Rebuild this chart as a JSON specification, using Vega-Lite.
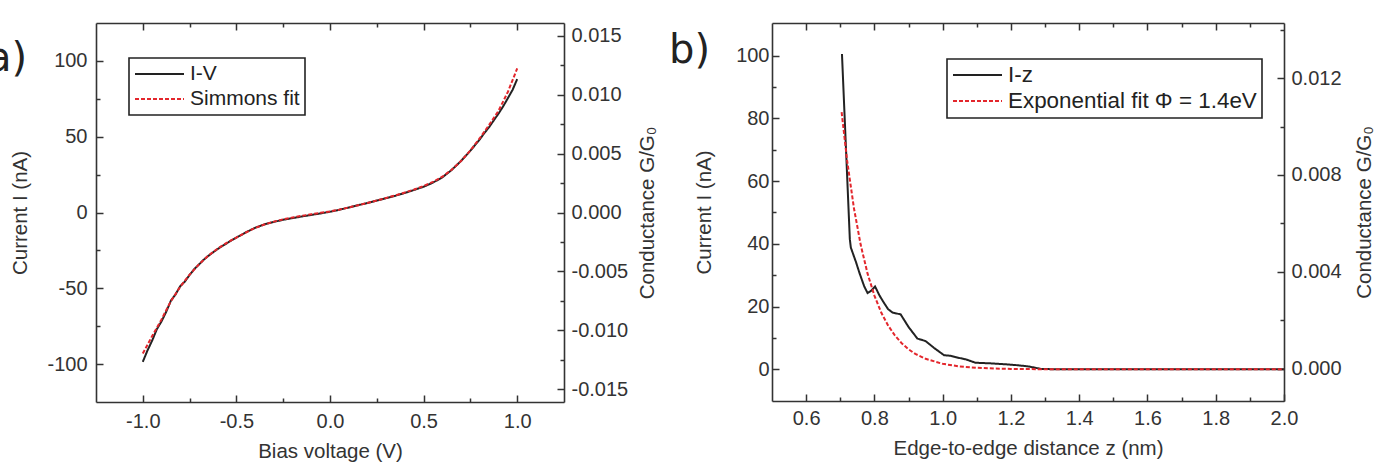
{
  "$schema": "https://vega.github.io/schema/vega-lite/v6.json",
  "padding": {"left": -13, "top": 19, "right": 5, "bottom": 5},
  "background": "white",
  "bounds": "flush",
  "spacing": 208,
  "config": {
    "font": "Liberation Sans",
    "view": {"stroke": null},
    "axis": {
      "domainColor": "#333", "domainWidth": 1.6,
      "tickColor": "#333", "tickWidth": 1.5,
      "labelFont": "Liberation Sans", "labelFontSize": 20, "labelColor": "#333",
      "titleFont": "Liberation Sans", "titleFontSize": 20.5, "titleFontWeight": "normal", "titleColor": "#333",
      "grid": false, "labelFlush": false, "labelOverlap": false, "labelPadding": 14
    },
    "legend": {
      "orient": "none", "title": null, "strokeColor": "#222", "strokeWidth": 1.6,
      "padding": 5, "symbolType": "stroke", "symbolSize": 2400, "symbolStrokeWidth": 2,
      "clipHeight": 22, "labelLimit": 400,
      "labelFont": "Liberation Sans", "labelFontSize": 22, "labelColor": "#222", "labelOffset": 5,
      "rowPadding": 3, "fillColor": "white"
    },
    "title": {"font": "DejaVu Sans", "fontSize": 40, "fontWeight": "normal", "color": "#222", "anchor": "start", "frame": "group", "baseline": "alphabetic", "offset": 0}
  },
  "resolve": {"scale": {"color": "independent", "strokeDash": "independent"}},
  "hconcat": [
    {
      "width": 468, "height": 379,
      "title": {"text": "a)", "dx": -109, "dy": 61},
      "layer": [
        {
          "data": {"values": [
            {"V": -1.0, "I": -98.5, "s": "I-V"}, {"V": -0.975, "I": -91.0, "s": "I-V"}, {"V": -0.95, "I": -84.5, "s": "I-V"},
            {"V": -0.925, "I": -77.0, "s": "I-V"}, {"V": -0.9, "I": -71.8, "s": "I-V"}, {"V": -0.875, "I": -65.5, "s": "I-V"},
            {"V": -0.85, "I": -58.2, "s": "I-V"}, {"V": -0.825, "I": -54.0, "s": "I-V"}, {"V": -0.8, "I": -48.6, "s": "I-V"},
            {"V": -0.775, "I": -45.5, "s": "I-V"}, {"V": -0.75, "I": -41.2, "s": "I-V"}, {"V": -0.725, "I": -37.3, "s": "I-V"},
            {"V": -0.7, "I": -34.3, "s": "I-V"}, {"V": -0.675, "I": -31.2, "s": "I-V"}, {"V": -0.65, "I": -28.6, "s": "I-V"},
            {"V": -0.625, "I": -26.3, "s": "I-V"}, {"V": -0.6, "I": -24.1, "s": "I-V"}, {"V": -0.575, "I": -22.0, "s": "I-V"},
            {"V": -0.55, "I": -20.2, "s": "I-V"}, {"V": -0.525, "I": -18.3, "s": "I-V"}, {"V": -0.5, "I": -16.6, "s": "I-V"},
            {"V": -0.45, "I": -13.1, "s": "I-V"}, {"V": -0.4, "I": -10.1, "s": "I-V"}, {"V": -0.35, "I": -7.8, "s": "I-V"},
            {"V": -0.3, "I": -6.2, "s": "I-V"}, {"V": -0.25, "I": -4.8, "s": "I-V"}, {"V": -0.2, "I": -3.7, "s": "I-V"},
            {"V": -0.15, "I": -2.6, "s": "I-V"}, {"V": -0.1, "I": -1.6, "s": "I-V"}, {"V": -0.05, "I": -0.6, "s": "I-V"},
            {"V": 0.0, "I": 0.5, "s": "I-V"}, {"V": 0.05, "I": 1.8, "s": "I-V"}, {"V": 0.1, "I": 3.3, "s": "I-V"},
            {"V": 0.15, "I": 4.8, "s": "I-V"}, {"V": 0.2, "I": 6.3, "s": "I-V"}, {"V": 0.25, "I": 7.9, "s": "I-V"},
            {"V": 0.3, "I": 9.5, "s": "I-V"}, {"V": 0.35, "I": 11.1, "s": "I-V"}, {"V": 0.4, "I": 12.9, "s": "I-V"},
            {"V": 0.45, "I": 14.9, "s": "I-V"}, {"V": 0.5, "I": 17.0, "s": "I-V"}, {"V": 0.55, "I": 19.7, "s": "I-V"},
            {"V": 0.6, "I": 23.2, "s": "I-V"}, {"V": 0.625, "I": 25.6, "s": "I-V"}, {"V": 0.65, "I": 28.1, "s": "I-V"},
            {"V": 0.675, "I": 31.0, "s": "I-V"}, {"V": 0.7, "I": 34.0, "s": "I-V"}, {"V": 0.725, "I": 37.4, "s": "I-V"},
            {"V": 0.75, "I": 40.8, "s": "I-V"}, {"V": 0.775, "I": 44.5, "s": "I-V"}, {"V": 0.8, "I": 48.2, "s": "I-V"},
            {"V": 0.825, "I": 52.5, "s": "I-V"}, {"V": 0.85, "I": 56.3, "s": "I-V"}, {"V": 0.875, "I": 60.8, "s": "I-V"},
            {"V": 0.9, "I": 65.2, "s": "I-V"}, {"V": 0.925, "I": 70.0, "s": "I-V"}, {"V": 0.95, "I": 75.4, "s": "I-V"},
            {"V": 0.975, "I": 80.8, "s": "I-V"}, {"V": 1.0, "I": 88.0, "s": "I-V"},
            {"V": -1.0, "I": -93.0, "s": "Simmons fit"}, {"V": -0.95, "I": -81.5, "s": "Simmons fit"}, {"V": -0.9, "I": -70.5, "s": "Simmons fit"},
            {"V": -0.85, "I": -58.5, "s": "Simmons fit"}, {"V": -0.8, "I": -49.0, "s": "Simmons fit"}, {"V": -0.75, "I": -41.0, "s": "Simmons fit"},
            {"V": -0.7, "I": -34.2, "s": "Simmons fit"}, {"V": -0.65, "I": -28.5, "s": "Simmons fit"}, {"V": -0.6, "I": -23.8, "s": "Simmons fit"},
            {"V": -0.55, "I": -19.9, "s": "Simmons fit"}, {"V": -0.5, "I": -16.5, "s": "Simmons fit"}, {"V": -0.45, "I": -13.2, "s": "Simmons fit"},
            {"V": -0.4, "I": -10.2, "s": "Simmons fit"}, {"V": -0.35, "I": -7.9, "s": "Simmons fit"}, {"V": -0.3, "I": -6.0, "s": "Simmons fit"},
            {"V": -0.25, "I": -4.5, "s": "Simmons fit"}, {"V": -0.2, "I": -3.3, "s": "Simmons fit"}, {"V": -0.15, "I": -2.2, "s": "Simmons fit"},
            {"V": -0.1, "I": -1.2, "s": "Simmons fit"}, {"V": -0.05, "I": -0.2, "s": "Simmons fit"}, {"V": 0.0, "I": 0.7, "s": "Simmons fit"},
            {"V": 0.05, "I": 1.9, "s": "Simmons fit"}, {"V": 0.1, "I": 3.3, "s": "Simmons fit"}, {"V": 0.15, "I": 4.8, "s": "Simmons fit"},
            {"V": 0.2, "I": 6.3, "s": "Simmons fit"}, {"V": 0.25, "I": 7.9, "s": "Simmons fit"}, {"V": 0.3, "I": 9.6, "s": "Simmons fit"},
            {"V": 0.35, "I": 11.3, "s": "Simmons fit"}, {"V": 0.4, "I": 13.2, "s": "Simmons fit"}, {"V": 0.45, "I": 15.2, "s": "Simmons fit"},
            {"V": 0.5, "I": 17.5, "s": "Simmons fit"}, {"V": 0.55, "I": 20.2, "s": "Simmons fit"}, {"V": 0.6, "I": 23.6, "s": "Simmons fit"},
            {"V": 0.65, "I": 28.2, "s": "Simmons fit"}, {"V": 0.7, "I": 34.0, "s": "Simmons fit"}, {"V": 0.75, "I": 41.0, "s": "Simmons fit"},
            {"V": 0.8, "I": 49.0, "s": "Simmons fit"}, {"V": 0.85, "I": 57.8, "s": "Simmons fit"}, {"V": 0.9, "I": 67.0, "s": "Simmons fit"},
            {"V": 0.95, "I": 79.5, "s": "Simmons fit"}, {"V": 1.0, "I": 95.0, "s": "Simmons fit"}
          ]},
          "mark": {"type": "line", "strokeWidth": 2, "clip": true},
          "encoding": {
            "x": {"field": "V", "type": "quantitative", "scale": {"domain": [-1.25, 1.25], "nice": false, "zero": false},
              "axis": {"orient": "bottom", "title": "Bias voltage (V)", "titlePadding": 7, "labelPadding": 16,
                "values": [-1, -0.75, -0.5, -0.25, 0, 0.25, 0.5, 0.75, 1],
                "labelExpr": "abs(datum.value*2 - round(datum.value*2)) < 1e-6 ? (datum.value < 0 ? '-' : '') + format(abs(datum.value), '.1f') : ''",
                "tickSize": {"condition": {"test": "abs(datum.value*2 - round(datum.value*2)) < 1e-6", "value": -7}, "value": -4}}},
            "y": {"field": "I", "type": "quantitative", "scale": {"domain": [-125, 125], "nice": false, "zero": false},
              "axis": {"orient": "left", "title": "Current I (nA)", "titlePadding": 16, "labelPadding": 16,
                "values": [-100, -75, -50, -25, 0, 25, 50, 75, 100],
                "labelExpr": "datum.value % 50 === 0 ? (datum.value < 0 ? '-' : '') + format(abs(datum.value), 'd') : ''",
                "tickSize": {"condition": {"test": "datum.value % 50 === 0", "value": -7}, "value": -4}}},
            "color": {"field": "s", "type": "nominal", "scale": {"domain": ["I-V", "Simmons fit"], "range": ["#222222", "#e3262c"]},
              "legend": {"legendX": 33, "legendY": 35, "labelFontSize": 21}},
            "strokeDash": {"field": "s", "type": "nominal", "scale": {"domain": ["I-V", "Simmons fit"], "range": [[1, 0], [4, 2]]},
              "legend": {"legendX": 33, "legendY": 35, "labelFontSize": 21}}
          }
        },
        {
          "data": {"values": [{"xd": 0, "gd": 0}]},
          "mark": {"type": "point", "opacity": 0},
          "encoding": {
            "x": {"field": "xd", "type": "quantitative", "scale": {"domain": [-1.25, 1.25], "nice": false, "zero": false},
              "axis": {"orient": "top", "title": null, "labels": false,
                "values": [-1, -0.75, -0.5, -0.25, 0, 0.25, 0.5, 0.75, 1],
                "tickSize": {"condition": {"test": "abs(datum.value*2 - round(datum.value*2)) < 1e-6", "value": -7}, "value": -4}}},
            "y": {"field": "gd", "type": "quantitative", "scale": {"domain": [-0.0161, 0.0161], "nice": false, "zero": false},
              "axis": {"orient": "right", "title": "Conductance G/G₀", "titleAngle": 270, "titleBaseline": "top", "titlePadding": 10,
                "values": [-0.015, -0.0125, -0.01, -0.0075, -0.005, -0.0025, 0, 0.0025, 0.005, 0.0075, 0.01, 0.0125, 0.015],
                "labelExpr": "abs(datum.value*200 - round(datum.value*200)) < 1e-6 ? (datum.value < -1e-9 ? '-' : '') + format(abs(datum.value), '.3f') : ''",
                "tickSize": {"condition": {"test": "abs(datum.value*200 - round(datum.value*200)) < 1e-6", "value": -7}, "value": -4}}}
          }
        }
      ],
      "resolve": {"scale": {"x": "independent", "y": "independent"}}
    },
    {
      "width": 512, "height": 378,
      "title": {"text": "b)", "dx": -103, "dy": 55},
      "layer": [
        {
          "data": {"values": [
            {"z": 0.705, "I": 100.5, "s": "I-z"}, {"z": 0.728, "I": 41.5, "s": "I-z"}, {"z": 0.731, "I": 38.8, "s": "I-z"},
            {"z": 0.746, "I": 34.2, "s": "I-z"}, {"z": 0.756, "I": 30.8, "s": "I-z"}, {"z": 0.77, "I": 26.5, "s": "I-z"},
            {"z": 0.78, "I": 24.3, "s": "I-z"}, {"z": 0.79, "I": 25.0, "s": "I-z"}, {"z": 0.802, "I": 26.4, "s": "I-z"},
            {"z": 0.815, "I": 23.5, "s": "I-z"}, {"z": 0.828, "I": 21.2, "s": "I-z"}, {"z": 0.84, "I": 19.2, "s": "I-z"},
            {"z": 0.853, "I": 18.1, "s": "I-z"}, {"z": 0.877, "I": 17.5, "s": "I-z"}, {"z": 0.9, "I": 13.5, "s": "I-z"},
            {"z": 0.926, "I": 9.8, "s": "I-z"}, {"z": 0.95, "I": 9.0, "s": "I-z"}, {"z": 0.975, "I": 6.8, "s": "I-z"},
            {"z": 1.004, "I": 4.5, "s": "I-z"}, {"z": 1.023, "I": 4.3, "s": "I-z"}, {"z": 1.045, "I": 3.7, "s": "I-z"},
            {"z": 1.067, "I": 3.2, "s": "I-z"}, {"z": 1.096, "I": 2.1, "s": "I-z"}, {"z": 1.14, "I": 1.9, "s": "I-z"},
            {"z": 1.184, "I": 1.6, "s": "I-z"}, {"z": 1.22, "I": 1.3, "s": "I-z"}, {"z": 1.252, "I": 0.9, "s": "I-z"},
            {"z": 1.29, "I": 0.1, "s": "I-z"}, {"z": 1.35, "I": 0.0, "s": "I-z"}, {"z": 1.5, "I": 0.0, "s": "I-z"},
            {"z": 1.7, "I": 0.0, "s": "I-z"}, {"z": 2.0, "I": 0.0, "s": "I-z"},
            {"z": 0.704, "I": 82.0, "s": "Exponential fit Φ = 1.4eV"}, {"z": 0.72, "I": 66.6, "s": "Exponential fit Φ = 1.4eV"},
            {"z": 0.74, "I": 51.4, "s": "Exponential fit Φ = 1.4eV"}, {"z": 0.76, "I": 39.6, "s": "Exponential fit Φ = 1.4eV"},
            {"z": 0.78, "I": 30.5, "s": "Exponential fit Φ = 1.4eV"}, {"z": 0.8, "I": 23.5, "s": "Exponential fit Φ = 1.4eV"},
            {"z": 0.82, "I": 18.1, "s": "Exponential fit Φ = 1.4eV"}, {"z": 0.84, "I": 14.0, "s": "Exponential fit Φ = 1.4eV"},
            {"z": 0.86, "I": 10.8, "s": "Exponential fit Φ = 1.4eV"}, {"z": 0.88, "I": 8.3, "s": "Exponential fit Φ = 1.4eV"},
            {"z": 0.9, "I": 6.4, "s": "Exponential fit Φ = 1.4eV"}, {"z": 0.92, "I": 4.9, "s": "Exponential fit Φ = 1.4eV"},
            {"z": 0.95, "I": 3.35, "s": "Exponential fit Φ = 1.4eV"}, {"z": 1.0, "I": 1.75, "s": "Exponential fit Φ = 1.4eV"},
            {"z": 1.05, "I": 0.91, "s": "Exponential fit Φ = 1.4eV"}, {"z": 1.1, "I": 0.48, "s": "Exponential fit Φ = 1.4eV"},
            {"z": 1.15, "I": 0.25, "s": "Exponential fit Φ = 1.4eV"}, {"z": 1.2, "I": 0.13, "s": "Exponential fit Φ = 1.4eV"},
            {"z": 1.3, "I": 0.03, "s": "Exponential fit Φ = 1.4eV"}, {"z": 1.4, "I": 0.01, "s": "Exponential fit Φ = 1.4eV"},
            {"z": 1.6, "I": 0.0, "s": "Exponential fit Φ = 1.4eV"}, {"z": 1.8, "I": 0.0, "s": "Exponential fit Φ = 1.4eV"},
            {"z": 2.0, "I": 0.0, "s": "Exponential fit Φ = 1.4eV"}
          ]},
          "mark": {"type": "line", "strokeWidth": 2, "clip": true},
          "encoding": {
            "x": {"field": "z", "type": "quantitative", "scale": {"domain": [0.5, 2.0], "nice": false, "zero": false},
              "axis": {"orient": "bottom", "title": "Edge-to-edge distance z (nm)", "titlePadding": 7, "labelPadding": 14.5,
                "values": [0.6, 0.7, 0.8, 0.9, 1.0, 1.1, 1.2, 1.3, 1.4, 1.5, 1.6, 1.7, 1.8, 1.9, 2.0],
                "labelExpr": "abs(datum.value*5 - round(datum.value*5)) < 1e-6 ? format(datum.value, '.1f') : ''",
                "tickSize": {"condition": {"test": "abs(datum.value*5 - round(datum.value*5)) < 1e-6", "value": -7}, "value": -4}}},
            "y": {"field": "I", "type": "quantitative", "scale": {"domain": [-10.1, 110.4], "nice": false, "zero": false},
              "axis": {"orient": "left", "title": "Current I (nA)", "titlePadding": 21, "labelPadding": 10,
                "values": [0, 10, 20, 30, 40, 50, 60, 70, 80, 90, 100],
                "labelExpr": "datum.value % 20 === 0 ? format(datum.value, 'd') : ''",
                "tickSize": {"condition": {"test": "datum.value % 20 === 0", "value": -7}, "value": -4}}},
            "color": {"field": "s", "type": "nominal", "scale": {"domain": ["I-z", "Exponential fit Φ = 1.4eV"], "range": ["#222222", "#e3262c"]},
              "legend": {"legendX": 175, "legendY": 36, "labelFontSize": 22.4}},
            "strokeDash": {"field": "s", "type": "nominal", "scale": {"domain": ["I-z", "Exponential fit Φ = 1.4eV"], "range": [[1, 0], [4, 2]]},
              "legend": {"legendX": 175, "legendY": 36, "labelFontSize": 22.4}}
          }
        },
        {
          "data": {"values": [{"xd": 1, "gd": 0}]},
          "mark": {"type": "point", "opacity": 0},
          "encoding": {
            "x": {"field": "xd", "type": "quantitative", "scale": {"domain": [0.5, 2.0], "nice": false, "zero": false},
              "axis": {"orient": "top", "title": null, "labels": false,
                "values": [0.6, 0.7, 0.8, 0.9, 1.0, 1.1, 1.2, 1.3, 1.4, 1.5, 1.6, 1.7, 1.8, 1.9],
                "tickSize": {"condition": {"test": "abs(datum.value*5 - round(datum.value*5)) < 1e-6", "value": -7}, "value": -4}}},
            "y": {"field": "gd", "type": "quantitative", "scale": {"domain": [-0.00134, 0.01428], "nice": false, "zero": false},
              "axis": {"orient": "right", "title": "Conductance  G/G₀", "titleAngle": 270, "titleBaseline": "top", "titlePadding": 13,
                "values": [0, 0.002, 0.004, 0.006, 0.008, 0.01, 0.012, 0.014],
                "labelExpr": "abs(datum.value*250 - round(datum.value*250)) < 1e-6 ? format(datum.value, '.3f') : ''",
                "tickSize": {"condition": {"test": "abs(datum.value*250 - round(datum.value*250)) < 1e-6", "value": -7}, "value": -4}}}
          }
        }
      ],
      "resolve": {"scale": {"x": "independent", "y": "independent"}}
    }
  ]
}
